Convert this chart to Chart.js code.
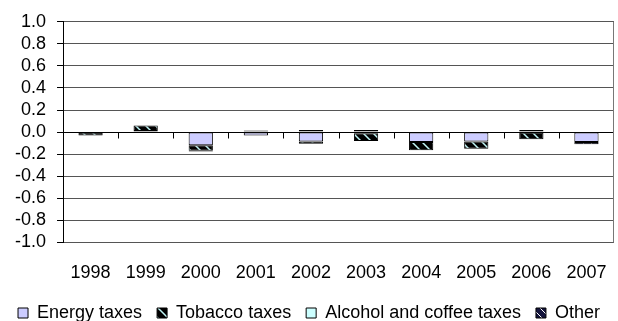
<!DOCTYPE html>
<html>
<head>
<meta charset="utf-8">
<script src="https://cdn.jsdelivr.net/npm/chart.js@4.4.0/dist/chart.umd.min.js"></script>
<style>
  html, body { margin: 0; padding: 0; background: #fff; }
  #wrap { width: 618px; height: 321px; }
</style>
</head>
<body>
<div id="wrap"><canvas id="taxChart"></canvas></div>
<script>
const years = ['1998', '1999', '2000', '2001', '2002', '2003', '2004', '2005', '2006', '2007'];
const energyTaxes  = [-0.005, 0.01, -0.12, -0.03, -0.085, -0.01, -0.09, -0.085, -0.005, -0.09];
const tobaccoTaxes = [-0.025, 0.05, -0.05, 0, -0.02, -0.07, -0.075, -0.065, -0.06, 0];
const alcoholTaxes = [0, 0, 0, 0, 0, 0, 0, 0, 0, 0];
const otherTaxes   = [0, 0, -0.005, 0.015, 0.02, 0.02, 0, 0, 0.02, -0.02];
const yTicks = [1.0, 0.8, 0.6, 0.4, 0.2, 0.0, -0.2, -0.4, -0.6, -0.8, -1.0];

// hatch fills like the old spreadsheet patterns
function hatch(bg, fg, size, width) {
  const c = document.createElement('canvas');
  c.width = size; c.height = size;
  const g = c.getContext('2d');
  g.fillStyle = bg;
  g.fillRect(0, 0, size, size);
  g.strokeStyle = fg;
  g.lineWidth = width;
  g.beginPath();
  g.moveTo(0, 0); g.lineTo(size, size);
  g.moveTo(-size, 0); g.lineTo(size, size * 2);
  g.moveTo(0, -size); g.lineTo(size * 2, size);
  g.stroke();
  return g.createPattern(c, 'repeat');
}
const tobaccoFill = hatch('#000000', '#bff5f5', 10, 1.5);
const otherFill = hatch('#14143c', '#ffffff', 8, 1);

// small category ticks on the zero line + right border of the plot
const extras = {
  id: 'extras',
  afterDatasetsDraw(chart) {
    const { ctx, chartArea, scales } = chart;
    const y0 = Math.round(scales.y.getPixelForValue(0)) + 0.5;
    ctx.save();
    ctx.strokeStyle = '#000';
    ctx.lineWidth = 1;
    ctx.beginPath();
    for (let i = 1; i < years.length; i++) {
      const x = Math.round((scales.x.getPixelForValue(i - 1) + scales.x.getPixelForValue(i)) / 2) + 0.5;
      ctx.moveTo(x, y0);
      ctx.lineTo(x, y0 + 6);
    }
    ctx.stroke();
    ctx.strokeStyle = '#777';
    ctx.beginPath();
    ctx.moveTo(Math.round(chartArea.right) - 0.5, chartArea.top);
    ctx.lineTo(Math.round(chartArea.right) - 0.5, chartArea.bottom);
    ctx.stroke();
    ctx.restore();
  }
};

Chart.defaults.font.family = '"Liberation Sans", Arial, sans-serif';
Chart.defaults.font.size = 18;
Chart.defaults.color = '#000';

new Chart(document.getElementById('taxChart'), {
  type: 'bar',
  data: {
    labels: years,
    datasets: [
      { label: 'Energy taxes', data: energyTaxes, backgroundColor: '#ccccff' },
      { label: 'Tobacco taxes', data: tobaccoTaxes, backgroundColor: tobaccoFill },
      { label: 'Alcohol and coffee taxes', data: alcoholTaxes, backgroundColor: '#ccffff' },
      { label: 'Other', data: otherTaxes, backgroundColor: otherFill }
    ]
  },
  options: {
    responsive: true,
    maintainAspectRatio: false,
    animation: false,
    layout: { padding: { left: 4, right: 4, top: 7, bottom: -11 } },
    datasets: {
      bar: {
        borderColor: '#000',
        borderWidth: 1,
        borderSkipped: false,
        categoryPercentage: 1,
        barPercentage: 0.44
      }
    },
    plugins: {
      legend: {
        position: 'bottom',
        labels: {
          boxWidth: 10,
          boxHeight: 10,
          padding: 0,
          color: '#000',
          // padding 0 keeps the legend low; spaces give the gap between items
          generateLabels(chart) {
            const items = Chart.defaults.plugins.legend.labels.generateLabels(chart);
            items.forEach((it, i) => {
              if (i < items.length - 1) it.text += '   ';
            });
            return items;
          }
        }
      },
      tooltip: { enabled: false }
    },
    scales: {
      x: {
        stacked: true,
        border: { display: false },
        grid: { display: false, drawTicks: false },
        ticks: { padding: 29, maxRotation: 0, autoSkip: false, font: { lineHeight: 0.2 } },
        // the big label padding should only push labels down, not squeeze the sides
        afterFit(scale) {
          scale.paddingLeft = 0;
          scale.paddingRight = 0;
        }
      },
      y: {
        stacked: true,
        min: -1,
        max: 1,
        afterBuildTicks(axis) {
          axis.ticks = yTicks.map(v => ({ value: v }));
        },
        border: { display: true, color: '#000', width: 1 },
        grid: {
          color: ctx => ctx.tick && ctx.tick.value === 0 ? '#000' : '#555',
          tickLength: 6,
          tickColor: '#000'
        },
        ticks: {
          padding: 11,
          autoSkip: false,
          callback: v => v.toFixed(1)
        }
      }
    }
  },
  plugins: [extras]
});
</script>
</body>
</html>
